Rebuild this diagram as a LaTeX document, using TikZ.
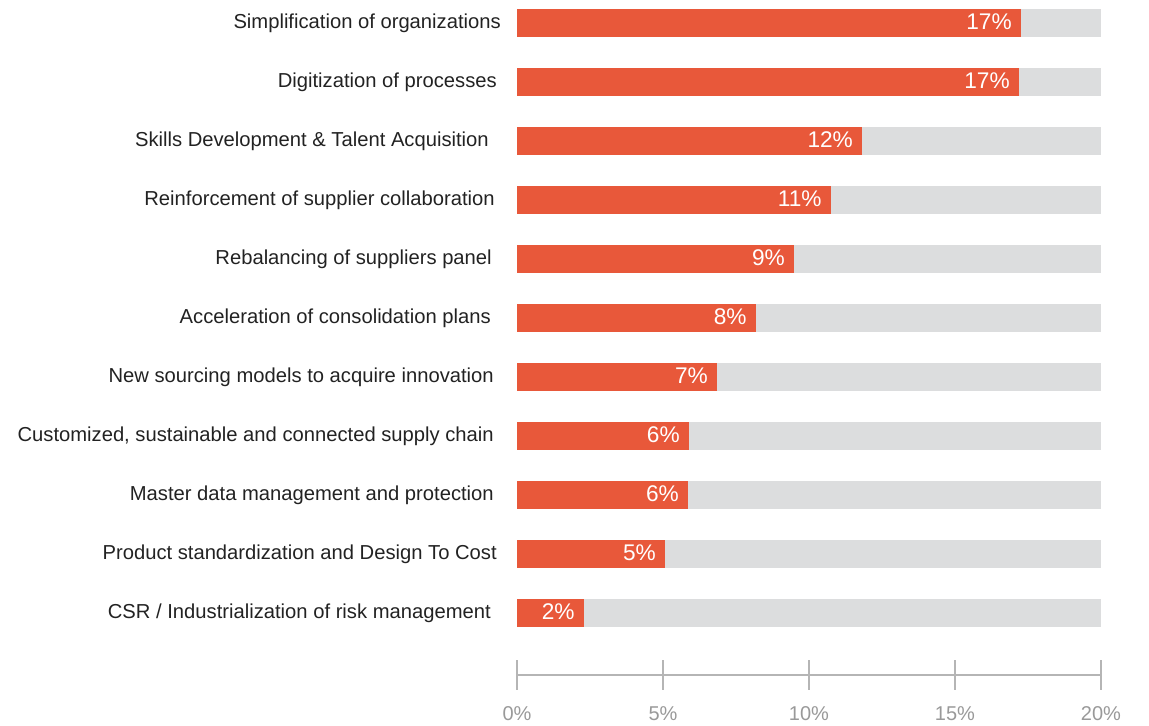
\documentclass[tikz,border=0pt]{standalone}
\usepackage{fontspec}
\setmainfont{Liberation Sans}
\usetikzlibrary{positioning}
\definecolor{barorange}{HTML}{E8583A}
\definecolor{bargray}{HTML}{DCDDDE}
\definecolor{axisgray}{HTML}{B5B5B5}
\definecolor{tickgray}{HTML}{999999}
\definecolor{labelgray}{HTML}{222222}
\tikzstyle{track}=[fill=bargray]
\tikzstyle{bar}=[fill=barorange]
\tikzstyle{itemlabel}=[anchor=base east,inner sep=0pt,text=labelgray,font=\fontsize{15.15}{18}\selectfont]
\tikzstyle{pct}=[anchor=base east,inner sep=0pt,text=white,font=\fontsize{17}{20}\selectfont]
\tikzstyle{ticklabel}=[anchor=base,inner sep=0pt,text=tickgray,font=\fontsize{15}{18}\selectfont]
\tikzstyle{axis}=[draw=axisgray,line width=1.5pt]

\begin{document}
\begin{tikzpicture}[x=0.75pt,y=-0.75pt]
\useasboundingbox (0,0) rectangle (1149,725);
% bars, one row per theme
\foreach \i/\v/\p/\r/\txt in {
  1/17.26/17/501/{Simplification of organizations},
  2/17.19/17/497/{Digitization of processes},
  3/11.82/12/489/{Skills Development \& Talent Acquisition},
  4/10.75/11/495/{Reinforcement of supplier collaboration},
  5/9.49/9/492/{Rebalancing of suppliers panel},
  6/8.18/8/491/{Acceleration of consolidation plans},
  7/6.85/7/494/{New sourcing models to acquire innovation},
  8/5.89/6/494/{Customized, sustainable and connected supply chain},
  9/5.86/6/494/{Master data management and protection},
  10/5.07/5/497/{Product standardization and Design To Cost},
  11/2.29/2/491/{CSR / Industrialization of risk management}} {
  \pgfmathsetmacro\yc{23+59*(\i-1)}
  \fill[track] (517,\yc-14) rectangle (1101,\yc+14);
  \fill[bar] (517,\yc-14) rectangle ({517+29.2*\v},\yc+14);
  \node[itemlabel] (l\i) at (\r,\yc+5) {\txt};
  \node[pct] (v\i) at ({517+29.2*\v-9},\yc+6.5) {\p\%};
}
% axis
\draw[axis] (517,675) -- (1101,675);
\foreach \t in {0,5,10,15,20} {
  \coordinate (k\t) at ({517+29.2*\t},690);
  \draw[axis] ({517+29.2*\t},660) -- (k\t);
  \node[ticklabel] (t\t) at ({517+29.2*\t},720) {\t\%};
}
\end{tikzpicture}
\end{document}
